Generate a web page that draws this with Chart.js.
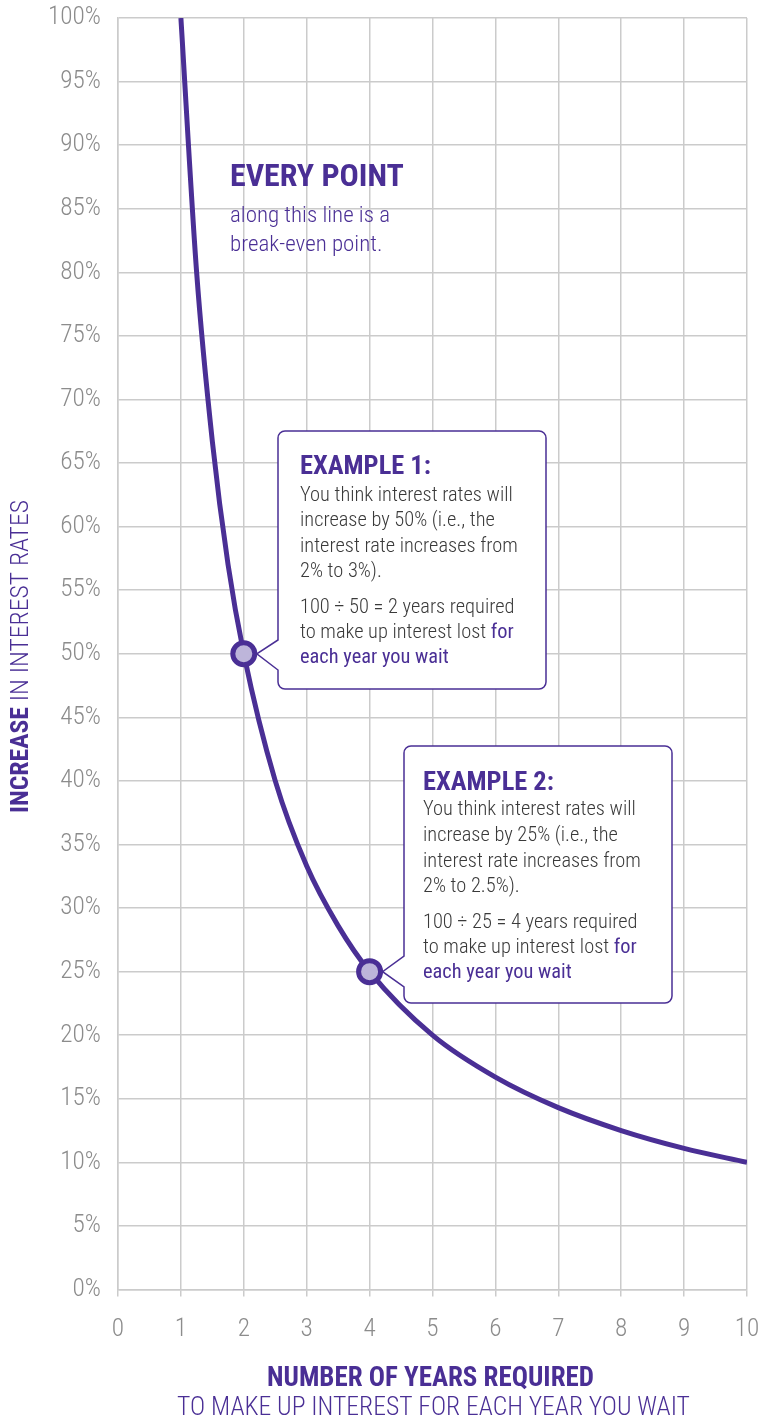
<!DOCTYPE html>
<html>
<head>
<meta charset="utf-8">
<script src="https://cdn.jsdelivr.net/npm/chart.js@4.4.1/dist/chart.umd.min.js"></script>
<style>
  html, body { margin: 0; padding: 0; background: #fff; }
  #wrap { width: 761px; height: 1422px; position: relative; }
</style>
</head>
<body>
<div id="wrap"><canvas id="chart"></canvas></div>
<script>
// data
var years = [1, 1.25, 1.5, 1.75, 2, 2.5, 3, 3.5, 4, 5, 6, 7, 8, 9, 10];
var increase = [100, 80, 66.7, 57, 50, 40, 33.3, 28.6, 25, 20, 16.7, 14.3, 12.5, 11.1, 10];
var exampleYears = [2, 4];
var exampleIncrease = [50, 25];
var xTickValues = [0, 1, 2, 3, 4, 5, 6, 7, 8, 9, 10];
var yTickLabels = ['0%', '5%', '10%', '15%', '20%', '25%', '30%', '35%', '40%', '45%', '50%',
  '55%', '60%', '65%', '70%', '75%', '80%', '85%', '90%', '95%', '100%'];

var FONT = '"Roboto Condensed", "Open Sans", sans-serif';
var PURPLE = '#4a2f95';
var TEXT = '#3a3a3a';

var mctx = document.createElement('canvas').getContext('2d');
function widthAt(text, weight, size) {
  mctx.font = weight + ' ' + size + 'px ' + FONT;
  return mctx.measureText(text).width;
}
function fitSize(parts, target) {
  var w = 0;
  parts.forEach(function (p) { w += widthAt(p.t, p.w, 100); });
  return 100 * target / w;
}

function drawParts(ctx, parts, x, y, align, size) {
  var total = 0;
  parts.forEach(function (p) { p.width = widthAt(p.t, p.w, size); total += p.width; });
  var cx = align === 'center' ? x - total / 2 : x;
  ctx.textAlign = 'left';
  ctx.textBaseline = 'middle';
  parts.forEach(function (p) {
    ctx.font = p.w + ' ' + size + 'px ' + FONT;
    ctx.fillStyle = p.c;
    ctx.fillText(p.t, cx, y);
    cx += p.width;
  });
}

var tickSize = fitSize([{ t: '100%', w: 300 }], 53);
var bodySize = fitSize([{ t: 'You think interest rates will', w: 300 }], 213);

var boxes = [
  {
    x: 278, y: 431, w: 268, h: 258, notch: [640, 670], point: 0, tx: 300,
    title: 'EXAMPLE 1:', titleY: 467,
    lines: [
      [496, [{ t: 'You think interest rates will', w: 300, c: TEXT }]],
      [521, [{ t: 'increase by 50% (i.e., the', w: 300, c: TEXT }]],
      [546.5, [{ t: 'interest rate increases from', w: 300, c: TEXT }]],
      [571.5, [{ t: '2% to 3%).', w: 300, c: TEXT }]],
      [608, [{ t: '100 \u00f7 50 = 2 years required', w: 300, c: TEXT }]],
      [633, [{ t: 'to make up interest lost ', w: 300, c: TEXT }, { t: 'for', w: 400, c: PURPLE }]],
      [658, [{ t: 'each year you wait', w: 400, c: PURPLE }]]
    ]
  },
  {
    x: 404, y: 746, w: 268, h: 257, notch: [956, 987], point: 1, tx: 423,
    title: 'EXAMPLE 2:', titleY: 783,
    lines: [
      [810, [{ t: 'You think interest rates will', w: 300, c: TEXT }]],
      [836, [{ t: 'increase by 25% (i.e., the', w: 300, c: TEXT }]],
      [861.5, [{ t: 'interest rate increases from', w: 300, c: TEXT }]],
      [886.5, [{ t: '2% to 2.5%).', w: 300, c: TEXT }]],
      [923, [{ t: '100 \u00f7 25 = 4 years required', w: 300, c: TEXT }]],
      [948, [{ t: 'to make up interest lost ', w: 300, c: TEXT }, { t: 'for', w: 400, c: PURPLE }]],
      [973, [{ t: 'each year you wait', w: 400, c: PURPLE }]]
    ]
  }
];

var calloutPlugin = {
  id: 'callouts',
  afterLayout: function (chart) {
    // plot area runs to 14px from the right edge, as in the original
    var s = chart.scales.x, ca = chart.chartArea, R = chart.width - 14;
    s.right = R;
    s.width = R - s.left;
    ca.right = R;
    ca.width = R - ca.left;
    s.configure();
  },
  beforeDatasetsDraw: function (chart) {
    var ctx = chart.ctx;
    var xs = chart.scales.x, ys = chart.scales.y;
    ctx.save();
    boxes.forEach(function (b) {
      var tipX = xs.getPixelForValue(exampleYears[b.point]) + 13;
      var tipY = ys.getPixelForValue(exampleIncrease[b.point]);
      var r = 7, x = b.x, y = b.y, w = b.w, h = b.h;
      ctx.beginPath();
      ctx.moveTo(x + r, y);
      ctx.lineTo(x + w - r, y);
      ctx.arcTo(x + w, y, x + w, y + r, r);
      ctx.lineTo(x + w, y + h - r);
      ctx.arcTo(x + w, y + h, x + w - r, y + h, r);
      ctx.lineTo(x + r, y + h);
      ctx.arcTo(x, y + h, x, y + h - r, r);
      ctx.lineTo(x, b.notch[1]);
      ctx.lineTo(tipX, tipY);
      ctx.lineTo(x, b.notch[0]);
      ctx.lineTo(x, y + r);
      ctx.arcTo(x, y, x + r, y, r);
      ctx.closePath();
      ctx.fillStyle = '#fff';
      ctx.fill();
      ctx.lineWidth = 1.5;
      ctx.strokeStyle = PURPLE;
      ctx.stroke();

      var ts = fitSize([{ t: b.title, w: 700 }], 131);
      drawParts(ctx, [{ t: b.title, w: 700, c: PURPLE }], b.tx, b.titleY, 'left', ts);
      b.lines.forEach(function (ln) {
        drawParts(ctx, ln[1], b.tx, ln[0], 'left', bodySize);
      });
    });
    ctx.restore();
  },
  afterDraw: function (chart) {
    var ctx = chart.ctx;
    ctx.save();
    // note near the top of the curve
    var p1 = [{ t: 'EVERY POINT', w: 700, c: PURPLE }];
    drawParts(ctx, p1, 230, 178, 'left', fitSize(p1, 174));
    var p2 = [{ t: 'along this line is a', w: 300, c: PURPLE }];
    var s2 = fitSize(p2, 160);
    drawParts(ctx, p2, 230, 216.5, 'left', s2);
    drawParts(ctx, [{ t: 'break-even point.', w: 300, c: PURPLE }], 230, 245, 'left', s2);

    // x axis title
    var a1 = [{ t: 'NUMBER OF YEARS REQUIRED', w: 700, c: PURPLE }];
    drawParts(ctx, a1, 430.5, 1379, 'center', fitSize(a1, 327));
    var a2 = [{ t: 'TO MAKE UP INTEREST FOR EACH YEAR YOU WAIT', w: 300, c: PURPLE }];
    drawParts(ctx, a2, 433.5, 1409, 'center', fitSize(a2, 513));

    // y axis title
    var yt = [{ t: 'INCREASE', w: 700, c: PURPLE }, { t: ' IN INTEREST RATES', w: 300, c: PURPLE }];
    var ys = fitSize(yt, 313);
    ctx.translate(22, 656.5);
    ctx.rotate(-Math.PI / 2);
    drawParts(ctx, yt, 0, 0, 'center', ys);
    ctx.restore();
  }
};

function noPadding(s) {
  s.paddingTop = 0;
  s.paddingBottom = 0;
  s.paddingLeft = 0;
  s.paddingRight = 0;
}

var ctx = document.getElementById('chart').getContext('2d');
var chart = new Chart(ctx, {
  type: 'line',
  data: {
    datasets: [{
      label: 'Break-even',
      data: years.map(function (x, i) { return { x: x, y: increase[i] }; }),
      borderColor: PURPLE,
      borderWidth: 5,
      pointRadius: 0,
      fill: false,
      cubicInterpolationMode: 'monotone',
      order: 2
    }, {
      label: 'Examples',
      data: exampleYears.map(function (x, i) { return { x: x, y: exampleIncrease[i] }; }),
      showLine: false,
      pointRadius: 11,
      pointBorderWidth: 5,
      pointBackgroundColor: '#bdb5da',
      pointBorderColor: PURPLE,
      order: 1
    }]
  },
  options: {
    responsive: true,
    maintainAspectRatio: false,
    animation: false,
    layout: { padding: { top: 18, right: 14, left: 0, bottom: 0 } },
    plugins: { legend: { display: false }, tooltip: { enabled: false } },
    scales: {
      x: {
        type: 'linear',
        min: 0, max: 10,
        afterBuildTicks: function (s) { s.ticks = xTickValues.map(function (v) { return { value: v }; }); },
        afterFit: function (s) { s.height = 132.5; noPadding(s); },
        ticks: { color: '#8c8c8c', font: { family: FONT, size: tickSize, weight: 300 }, padding: 18 },
        grid: { color: '#cbcbcb', lineWidth: 1.5, tickLength: 7 },
        border: { color: '#cbcbcb', width: 1.5 }
      },
      y: {
        min: 0, max: 100,
        afterBuildTicks: function (s) { s.ticks = yTickLabels.map(function (t, i) { return { value: i * 5 }; }); },
        afterFit: function (s) { s.width = 118; noPadding(s); },
        ticks: {
          color: '#8c8c8c', font: { family: FONT, size: tickSize, weight: 300 }, padding: 17,
          callback: function (v) { return yTickLabels[Math.round(v / 5)]; }
        },
        grid: { color: '#cbcbcb', lineWidth: 1.5, tickLength: 0 },
        border: { color: '#cbcbcb', width: 1.5 }
      }
    }
  },
  plugins: [calloutPlugin]
});
</script>
</body>
</html>
